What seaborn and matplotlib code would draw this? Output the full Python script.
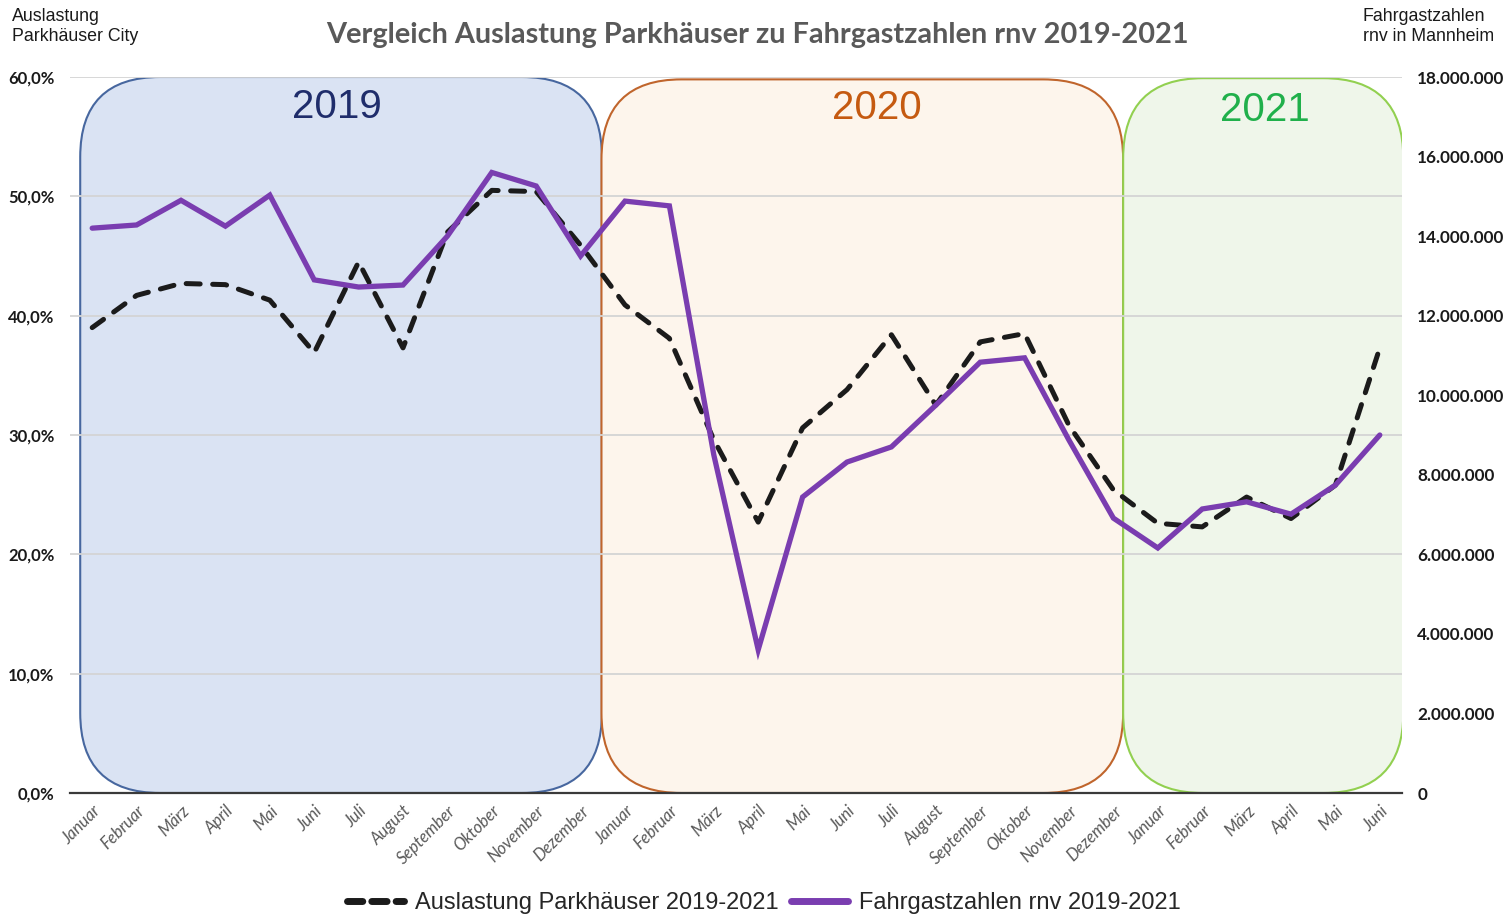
import numpy as np
import pandas as pd
import matplotlib
matplotlib.use("Agg")
import matplotlib.pyplot as plt
import seaborn as sns
from matplotlib.patches import FancyBboxPatch
from matplotlib.transforms import IdentityTransform
from matplotlib.lines import Line2D

# ---------------- data ----------------
months = ["Januar", "Februar", "März", "April", "Mai", "Juni", "Juli", "August",
          "September", "Oktober", "November", "Dezember"]
month_labels = months + months + months[:6]

# Auslastung Parkhäuser City (%)
auslastung = [39.0, 41.7, 42.7, 42.6, 41.3, 36.9, 44.5, 37.3, 47.0, 50.5, 50.4, 45.9,
              40.9, 38.1, 29.6, 22.7, 30.6, 33.8, 38.4, 32.5, 37.8, 38.5, 30.8, 25.4,
              22.6, 22.3, 24.8, 23.0, 25.8, 37.3]

# Fahrgastzahlen rnv in Mannheim
fahrgaeste = [14.20e6, 14.28e6, 14.90e6, 14.25e6, 15.03e6, 12.90e6, 12.72e6, 12.77e6,
              14.00e6, 15.60e6, 15.26e6, 13.50e6,
              14.88e6, 14.76e6, 8.50e6, 3.60e6, 7.44e6, 8.32e6, 8.70e6, 9.75e6,
              10.83e6, 10.94e6, 8.87e6, 6.91e6,
              6.16e6, 7.14e6, 7.32e6, 7.01e6, 7.74e6, 9.00e6]

years = ["2019", "2020", "2021"]
left_ticks = [0, 10, 20, 30, 40, 50, 60]
right_ticks = [0, 2e6, 4e6, 6e6, 8e6, 10e6, 12e6, 14e6, 16e6, 18e6]

series1 = "Auslastung Parkhäuser 2019-2021"
series2 = "Fahrgastzahlen rnv 2019-2021"

# ---------------- style ----------------
sns.set_theme(style="white")
plt.rcParams["font.family"] = ["Liberation Sans", "DejaVu Sans"]

W, H = 1503, 916
fig = plt.figure(figsize=(W / 100, H / 100), dpi=100)
L, R, T, B = 70, 1402, 77, 793
ax = fig.add_axes([L / W, 1 - B / H, (R - L) / W, (B - T) / H])
ax2 = ax.twinx()

df = pd.DataFrame({"idx": np.arange(len(month_labels)),
                   "ausl": auslastung, "fahr": fahrgaeste})

ax.set_xlim(-0.5, len(month_labels) - 0.5)
ax.set_ylim(0, 60)
ax2.set_ylim(0, 18e6)

# grid
ax.set_yticks(left_ticks)
ax.yaxis.grid(True, color="#d4d4d4", linewidth=1.3, zorder=1.5)
ax.set_axisbelow("line")
for s in ["top", "left", "right"]:
    ax.spines[s].set_visible(False)
    ax2.spines[s].set_visible(False)
ax2.spines["bottom"].set_visible(False)
ax.spines["bottom"].set_color("#3a3a3a")
ax.spines["bottom"].set_linewidth(1.6)
ax.spines["bottom"].set_zorder(3)

# year boxes (rounded rectangles)
box_x = [(-0.27, 11.48), (11.47, 23.22), (23.22, 29.53)]
box_top = [60.0, 59.8, 59.9]
box_fc = ["#dae3f3", "#fdf5ec", "#eff6ea"]
box_ec = ["#47679f", "#c0652c", "#92d050"]
year_col = ["#1f2d6b", "#c55a11", "#20b04b"]
year_pos = [(5.5, 57.5), (17.68, 57.4), (26.42, 57.2)]
for (x0, x1), top, fc, ec in zip(box_x, box_top, box_fc, box_ec):
    p0 = ax.transData.transform((x0, 0))
    p1 = ax.transData.transform((x1, top))
    patch = FancyBboxPatch((p0[0], p0[1]), p1[0] - p0[0], p1[1] - p0[1],
                           boxstyle="round,pad=0,rounding_size=80",
                           transform=IdentityTransform(), facecolor=fc,
                           edgecolor=ec, linewidth=1.5, zorder=1)
    ax.add_patch(patch)
for yr, (xp, yp), c in zip(years, year_pos, year_col):
    ax.text(xp, yp, yr, ha="center", va="center", fontsize=29, color=c, zorder=4)

# lines
sns.lineplot(data=df, x="idx", y="ausl", ax=ax, color="#1b1b1b", linewidth=3.6,
             linestyle=(0, (2.8, 2.5)), dash_capstyle="round", zorder=2)
sns.lineplot(data=df, x="idx", y="fahr", ax=ax2, color="#7a3db0", linewidth=3.8,
             zorder=2, solid_joinstyle="miter")

ax.set_xlabel("")
ax.set_ylabel("")
ax2.set_xlabel("")
ax2.set_ylabel("")

# ticks
ax.set_xticks(df["idx"])
ax.set_xticklabels(month_labels, rotation=45, ha="right", rotation_mode="anchor",
                   fontstyle="italic", color="#595959", fontsize=12, family="Lato")
ax.tick_params(axis="x", length=0, pad=7)
ax.set_yticklabels([f"{v:.1f}%".replace(".", ",") for v in left_ticks],
                   fontweight="bold", fontsize=12, family="Lato", color="#1a1a1a")
ax.tick_params(axis="y", length=0, pad=11)
ax2.set_yticks(right_ticks)
ax2.set_yticklabels(["0" if v == 0 else f"{v:,.0f}".replace(",", ".") for v in right_ticks],
                    fontweight="bold", fontsize=12.3, family="Lato", color="#1a1a1a")
ax2.tick_params(axis="y", length=0, pad=11)

# texts
fig.text(757 / W, 1 - 35 / H, "Vergleich Auslastung Parkhäuser zu Fahrgastzahlen rnv 2019-2021",
         ha="center", va="center", fontsize=20.8, fontweight="bold", family="Lato",
         color="#595959")
fig.text(12 / W, 1 - 8 / H, "Auslastung\nParkhäuser City", ha="left", va="top",
         fontsize=12.8, color="#1a1a1a", linespacing=1.2)
fig.text(1363 / W, 1 - 8 / H, "Fahrgastzahlen\nrnv in Mannheim", ha="left", va="top",
         fontsize=12.8, color="#1a1a1a", linespacing=1.2)

handles = [Line2D([], [], color="#1b1b1b", linewidth=5, linestyle=(0, (2.2, 1.3)),
                  dash_capstyle="round"),
           Line2D([], [], color="#7a3db0", linewidth=5, solid_capstyle="round")]
fig.legend(handles, [series1, series2], loc="center", bbox_to_anchor=(764 / W, 1 - 903 / H),
           ncol=2, frameon=False, fontsize=17, handlelength=2.4, columnspacing=0.5,
           handletextpad=0.5)

fig.savefig("out.png", dpi=100)
